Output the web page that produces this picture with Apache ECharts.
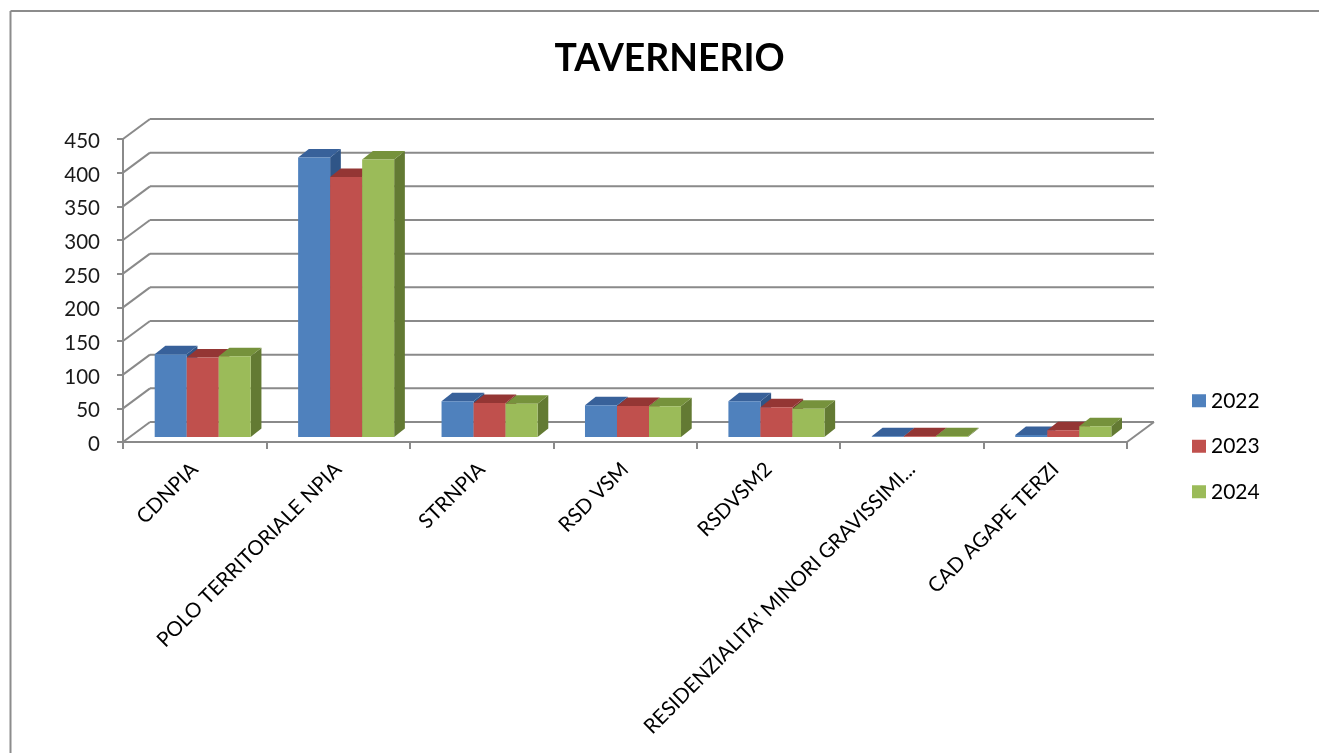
<!DOCTYPE html>
<html><head><meta charset="utf-8">
<style>html,body{margin:0;padding:0;background:#fff}#c{width:1319px;height:753px}</style>
<script src="https://cdn.jsdelivr.net/npm/echarts@6/dist/echarts.min.js"></script>
</head><body><div id="c"></div>
<script>
const categories = ['CDNPIA','POLO TERRITORIALE NPIA','STRNPIA','RSD VSM','RSDVSM2',"RESIDENZIALITA' MINORI GRAVISSIMI...",'CAD AGAPE TERZI'];
const years = ['2022','2023','2024'];
const v2022 = [123,415,53,47,53,1,3];
const v2023 = [118,386,50.5,46,44,1,10];
const v2024 = [120,412,49.5,45.5,42,1,16];
const yTicks = [0,50,100,150,200,250,300,350,400,450];
const front = ['#4f81bd','#c0504d','#9bbb59'];
const topC = ['#38619a','#943634','#76923c'];
const sideC = ['#2f5587','#7d2e2c','#637a33'];
const gridC = '#8a8a8a';

const chart = echarts.init(document.getElementById('c'), null, {renderer:'canvas'});
const WALL = [27,-20], DEPTH = [10.7,-8.5], BASE = [8,-5];
function poly(pts, fill){ return {type:'polygon', shape:{points:pts}, style:{fill:fill}}; }
function line(a,b){ return {type:'line', shape:{x1:a[0],y1:a[1],x2:b[0],y2:b[1]}, style:{stroke:gridC,lineWidth:2}}; }

const wall = {
  type:'custom', name:'wall', silent:true, z:1, legendHoverLink:false, tooltip:{show:false},
  data: yTicks.map(v=>[v]),
  encode:{y:0},
  renderItem(params, api){
    const v = api.value(0);
    const r = api.coord([0,v]); const bandW = api.size([1,0])[0];
    const l = [r[0]-bandW/2, r[1]];
    const rr = [l[0]+bandW*7, l[1]];
    const b = [l[0]+WALL[0], l[1]+WALL[1]];
    const e = [rr[0]+WALL[0], rr[1]+WALL[1]];
    const kids = [line(l,b), line(b,e)];
    if (v===0){ kids.push(line(rr,e)); }
    return {type:'group', children:kids};
  }
};
function bars(idx, values){
  return {
    type:'custom', name:years[idx], z:2+idx, itemStyle:{color:front[idx]},
    data: values.map((v,i)=>[i,v]),
    encode:{x:0,y:1},
    renderItem(params, api){
      const c = api.coord([api.value(0),api.value(1)]);
      const z = api.coord([api.value(0),0]);
      const w = api.size([1,0])[0]*0.2232;
      const x0 = c[0]+BASE[0]-w*1.5+idx*w, x1 = x0+w;
      const yt = c[1]+BASE[1], yb = z[1]+BASE[1];
      const [dx,dy] = DEPTH;
      return {type:'group', children:[
        poly([[x1,yb],[x1+dx,yb+dy],[x1+dx,yt+dy],[x1,yt]], sideC[idx]),
        poly([[x0,yt],[x1,yt],[x1+dx,yt+dy],[x0+dx,yt+dy]], topC[idx]),
        {type:'rect', shape:{x:x0,y:yt,width:w,height:yb-yt}, style:{fill:front[idx]}}
      ]};
    }
  };
}
chart.setOption({
  animation:false,
  backgroundColor:'#fff',
  textStyle:{fontFamily:'Lato'},
  title:{text:'TAVERNERIO', left:664.5, top:35, textAlign:'center',
    textStyle:{fontFamily:'Lato',fontWeight:'bold',fontSize:37.3,color:'#000'}},
  legend:{orient:'vertical', left:1187, top:383, itemWidth:14, itemHeight:13, itemGap:20,
    icon:'rect', data:years, selectedMode:false,
    textStyle:{fontFamily:'Lato',fontSize:21,color:'#000',lineHeight:25.5}},
  grid:{left:123, right:192, top:139, bottom:311, containLabel:false},
  xAxis:{type:'category', data:categories, boundaryGap:true,
    axisLine:{show:true,lineStyle:{color:gridC,width:2}},
    axisTick:{show:true,alignWithLabel:false,length:7,lineStyle:{color:gridC,width:2}},
    axisLabel:{interval:0, rotate:45, margin:24, fontFamily:'Lato', fontSize:20.5, color:'#000'},
    splitLine:{show:false}},
  yAxis:{type:'value', min:0, max:450, interval:50,
    axisLine:{show:true,lineStyle:{color:gridC,width:2}},
    axisTick:{show:true,length:6,lineStyle:{color:gridC,width:2}},
    axisLabel:{margin:23, formatter:'{a|{value}}',
      rich:{a:{padding:[5,0,0,0], fontFamily:'Lato', fontSize:20.5, color:'#1a1a1a'}}},
    splitLine:{show:false}},
  graphic:[
    {type:'line', z:0, shape:{x1:10.5,y1:11,x2:1319,y2:11}, style:{stroke:'#8c8c8c',lineWidth:2}},
    {type:'line', z:0, shape:{x1:10.5,y1:11,x2:10.5,y2:753}, style:{stroke:'#8c8c8c',lineWidth:2}}
  ],
  series:[wall, bars(0,v2022), bars(1,v2023), bars(2,v2024)]
});
</script></body></html>
